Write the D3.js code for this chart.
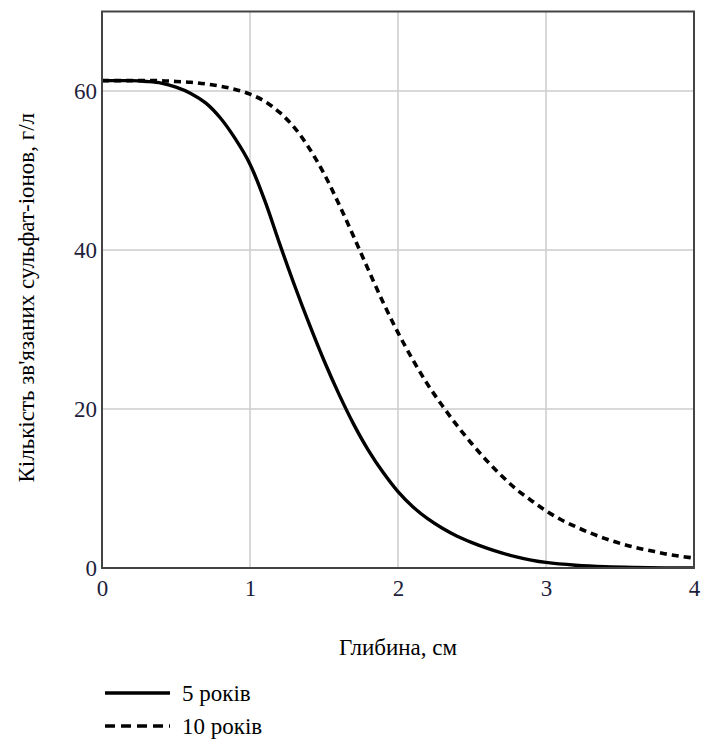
<!DOCTYPE html>
<html><head><meta charset="utf-8">
<script src="https://cdn.jsdelivr.net/npm/d3@7"></script>
</head><body style="margin:0">
<svg id="chart" width="706" height="742" font-family="Liberation Serif"></svg>
<script>
const depth = [0,0.1,0.2,0.3,0.4,0.5,0.6,0.7,0.8,0.9,1.0,1.1,1.2,1.3,1.4,1.5,1.6,1.7,1.8,1.9,2.0,2.1,2.2,2.3,2.4,2.5,2.6,2.7,2.8,2.9,3.0,3.2,3.4,3.6,3.8,4.0];
const years5 = [61.3,61.3,61.3,61.2,61.0,60.5,59.7,58.5,56.6,54.0,50.8,46.2,40.8,35.6,30.7,26.1,21.9,18.1,14.8,12.0,9.6,7.7,6.2,5.0,4.0,3.2,2.5,1.9,1.4,1.0,0.7,0.35,0.15,0.06,0.02,0.0];
const depth10 = [0,0.2,0.4,0.5,0.6,0.7,0.8,0.9,1.0,1.1,1.2,1.3,1.4,1.5,1.6,1.7,1.8,1.9,2.0,2.1,2.2,2.3,2.4,2.5,2.6,2.7,2.8,2.9,3.0,3.1,3.2,3.3,3.4,3.5,3.6,3.7,3.8,3.9,4.0];
const years10 = [61.3,61.3,61.3,61.2,61.1,60.9,60.6,60.2,59.6,58.7,57.3,55.4,52.8,49.6,45.8,41.7,37.5,33.4,29.6,26.2,23.1,20.4,17.9,15.6,13.5,11.6,9.9,8.5,7.2,6.1,5.2,4.4,3.7,3.1,2.6,2.2,1.8,1.5,1.25];
const xTicks = [0,1,2,3,4];
const yTicks = [0,20,40,60];
const seriesNames = ["5 років","10 років"];
const xTitle = "Глибина, см";
const yTitle = "Кількість зв'язаних сульфат-іонов, г/л";

const svg = d3.select("#chart");
const L = 102, T = 11.5, W = 592, H = 556.5;
const xs = d3.scaleLinear().domain([0,4]).range([L, L+W]);
const ys = d3.scaleLinear().domain([0,70]).range([T+H, T]);
const FONT = "Liberation Serif";
const tickColor = "#1e1e3c";

svg.append("g").selectAll("line").data(xTicks.filter(d=>d>0&&d<4)).join("line")
  .attr("x1",d=>xs(d)).attr("x2",d=>xs(d)).attr("y1",T).attr("y2",T+H)
  .attr("stroke","#cccccc").attr("stroke-width",1.5);
svg.append("g").selectAll("line").data(yTicks.filter(d=>d>0)).join("line")
  .attr("y1",d=>ys(d)).attr("y2",d=>ys(d)).attr("x1",L).attr("x2",L+W)
  .attr("stroke","#cccccc").attr("stroke-width",1.5);

const xa = svg.append("g").attr("transform",`translate(0,${T+H})`)
  .call(d3.axisBottom(xs).tickValues(xTicks).tickFormat(d3.format("d")).tickSize(0).tickPadding(12));
xa.attr("font-family",FONT).attr("font-size",23);
xa.select(".domain").remove();
xa.selectAll("text").attr("font-family",FONT).attr("font-size",23).attr("fill",tickColor);
const ya = svg.append("g").attr("transform",`translate(${L},0)`)
  .call(d3.axisLeft(ys).tickValues(yTicks).tickFormat(d3.format("d")).tickSize(0).tickPadding(5));
ya.attr("font-family",FONT).attr("font-size",23);
ya.select(".domain").remove();
ya.selectAll("text").attr("font-family",FONT).attr("font-size",23).attr("fill",tickColor);

const lineGen = d3.line().x(d=>xs(d[0])).y(d=>ys(d[1])).curve(d3.curveCatmullRom.alpha(0.5));
svg.append("clipPath").attr("id","pc").append("rect").attr("x",L).attr("y",T).attr("width",W).attr("height",H);
svg.append("path").datum(depth.map((d,i)=>[d,years5[i]])).attr("d",lineGen)
  .attr("fill","none").attr("stroke","#000").attr("stroke-width",3.4).attr("clip-path","url(#pc)");
svg.append("path").datum(depth10.map((d,i)=>[d,years10[i]])).attr("d",lineGen)
  .attr("fill","none").attr("stroke","#000").attr("stroke-width",3.6).attr("stroke-dasharray","7,5").attr("clip-path","url(#pc)");

svg.append("rect").attr("x",L).attr("y",T).attr("width",W).attr("height",H)
  .attr("fill","none").attr("stroke","#444").attr("stroke-width",2);

svg.append("text").attr("x",L+W/2).attr("y",655).attr("text-anchor","middle")
  .attr("font-family",FONT).attr("font-size",23).attr("fill","#000").text(xTitle);
svg.append("text").attr("transform",`translate(34,${T+H/2+8}) rotate(-90)`).attr("text-anchor","middle")
  .attr("font-family",FONT).attr("font-size",23).attr("fill","#000").text(yTitle);

[0,1].forEach(i=>{
  const ly = 693 + i*33;
  svg.append("line").attr("x1",105).attr("x2",170).attr("y1",ly).attr("y2",ly)
    .attr("stroke","#000").attr("stroke-width",3.4).attr("stroke-dasharray", i? "10,6" : null);
  svg.append("text").attr("x",182).attr("y",ly+8).attr("font-family",FONT).attr("font-size",23)
    .attr("fill","#000").text(seriesNames[i]);
});
</script>
</body></html>
